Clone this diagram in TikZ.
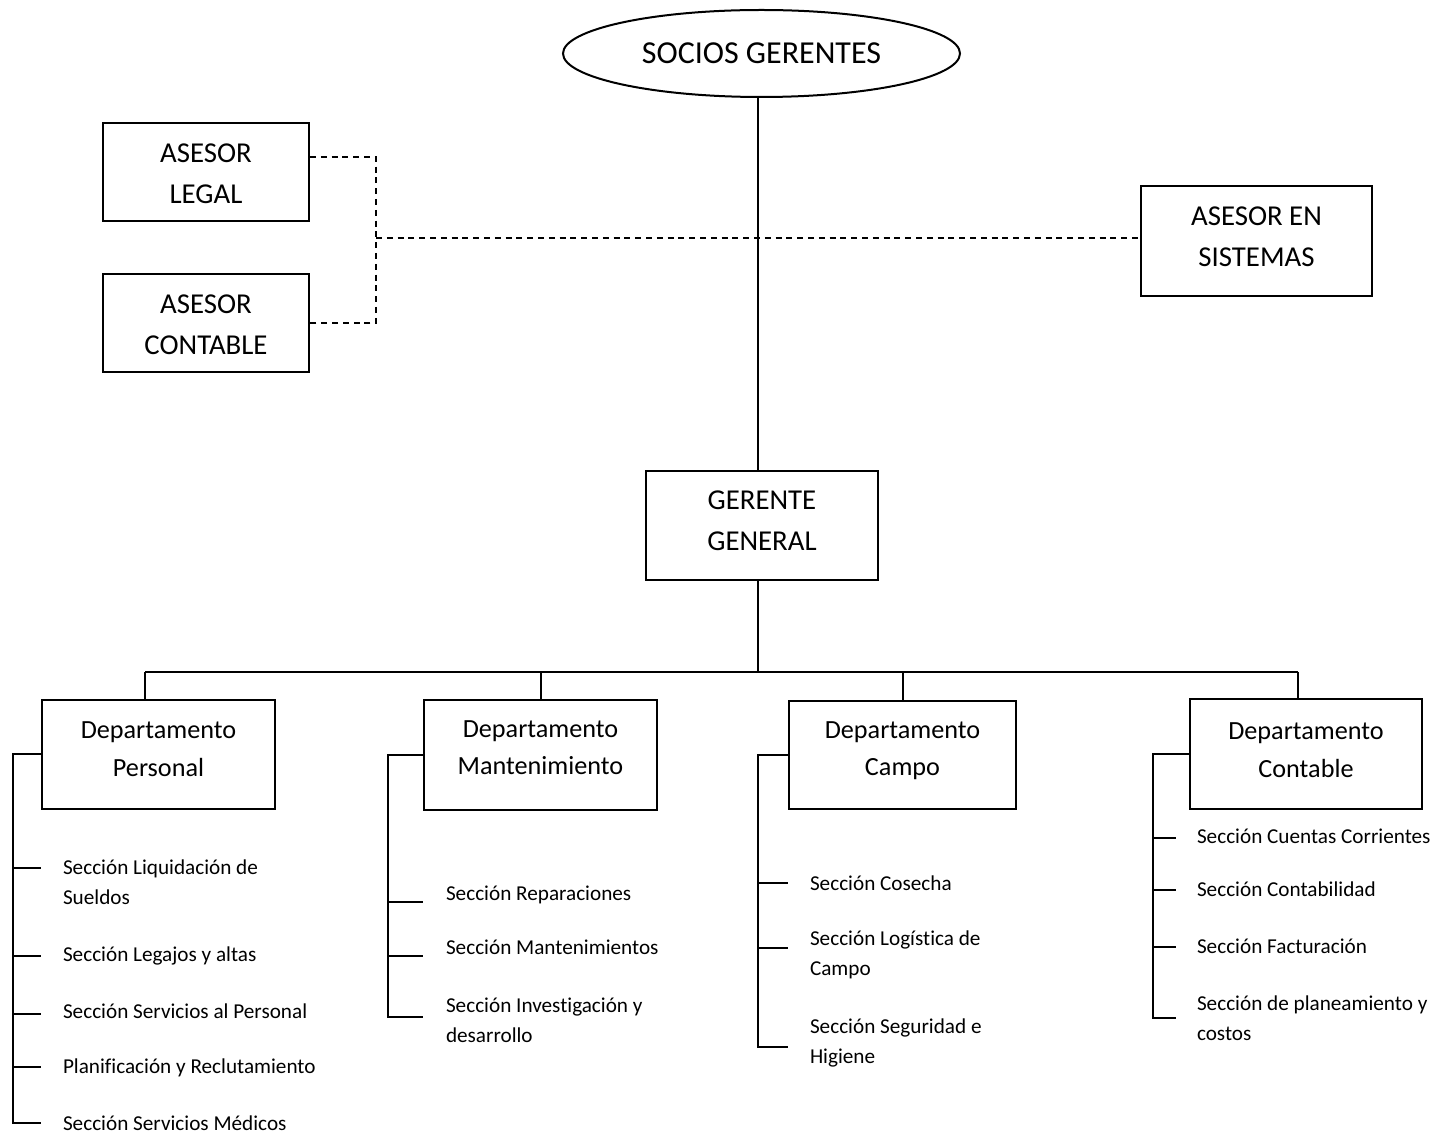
\documentclass[tikz,border=0pt]{standalone}
\usepackage{fontspec}
\setmainfont[Ligatures=NoCommon]{Carlito}
\usetikzlibrary{shapes.geometric}

\begin{document}
\begin{tikzpicture}[x=0.5pt,y=-0.5pt,line width=1pt,
  boxwh/.style 2 args={minimum width=#1*0.5pt, minimum height=#2*0.5pt},
  orgbox/.style={draw, rectangle, inner sep=0pt},
  topoval/.style={draw, ellipse, inner sep=0pt, font=\fontsize{16}{19}\selectfont},
  bigtxt/.style={font=\fontsize{14.4}{20.3}\selectfont, align=center, inner sep=0pt},
  depttxt/.style={font=\fontsize{13.1}{18.7}\selectfont, align=center, inner sep=0pt},
  sectxt/.style={font=\fontsize{10.6}{15}\selectfont, align=left, inner sep=0pt, anchor=base west},
  staff/.style={line width=0.8pt, dash pattern=on 3pt off 2.4pt}]

\fill[white] (0,0) rectangle (1436,1133);
\useasboundingbox (0,0) rectangle (1436,1133);

% top of the hierarchy
\node[topoval, boxwh={397}{87}] (ss) at (761.5,53.5) {SOCIOS GERENTES};

% staff advisers
\node[orgbox, boxwh={206}{98}] (al) at (206,172) {};
\node[bigtxt] (alt) at (206,174) {ASESOR\\LEGAL};
\node[orgbox, boxwh={206}{98}] (ac) at (206,323) {};
\node[bigtxt] (act) at (206,324.5) {ASESOR\\CONTABLE};
\node[orgbox, boxwh={231}{110}] (as) at (1256.5,241) {};
\node[bigtxt] (ast) at (1256.5,237) {ASESOR EN\\SISTEMAS};

% general manager
\node[orgbox, boxwh={232}{109}] (gg) at (762,525.5) {};
\node[bigtxt] (ggt) at (762,520.5) {GERENTE\\GENERAL};

% departments
\node[orgbox, boxwh={233}{109}] (dp) at (158.5,754.5) {};
\node[depttxt] (dpt) at (158.5,749) {Departamento\\Personal};
\node[orgbox, boxwh={233}{110}] (dm) at (540.5,755) {};
\node[depttxt] (dmt) at (540.5,747.5) {Departamento\\Mantenimiento};
\node[orgbox, boxwh={227}{108}] (dc) at (902.5,755) {};
\node[depttxt] (dct) at (902.5,751) {Departamento\\Campo};
\node[orgbox, boxwh={232}{110}] (dk) at (1306,754) {};
\node[depttxt] (dkt) at (1306,750) {Departamento\\Contable};

% main line of authority
\coordinate (spine) at (758,0);
\coordinate (bus) at (758,672);
\coordinate (bL) at (145,672);
\coordinate (bR) at (1298,672);
\draw (spine |- ss.south) -- (spine |- gg.north);
\draw (spine |- gg.south) -- (bus);
\draw (bL) -- (bR);
\draw (bL) -- (bL |- dp.north);
\draw (bus -| dm.north) -- (dm.north);
\draw (bus -| dc.north) -- (dc.north);
\draw (bR) -- (bR |- dk.north);

% advisory (staff) links
\coordinate (sj) at (376,238);
\draw[staff] ([yshift=7.5pt]al.east) -| (sj |- ac.east) -- (ac.east);
\draw[staff] (sj) -- (sj -| as.west);

% section brackets
\coordinate (pb) at (13,1123);
\draw (dp.west) -| (pb) -- (pb -| dp.west);
\foreach \n/\y in {p1/868,p2/956,p3/1014,p4/1067}{
  \coordinate (\n) at (13,\y);
  \draw (\n) -- (\n -| dp.west);
}
\coordinate (mb) at (388,1017);
\draw (dm.west) -| (mb) -- (mb -| dm.west);
\foreach \n/\y in {m1/902,m2/956}{
  \coordinate (\n) at (388,\y);
  \draw (\n) -- (\n -| dm.west);
}
\coordinate (cb) at (758,1047);
\draw (dc.west) -| (cb) -- (cb -| dc.west);
\foreach \n/\y in {c1/883,c2/948}{
  \coordinate (\n) at (758,\y);
  \draw (\n) -- (\n -| dc.west);
}
\coordinate (kb) at (1153,1018);
\coordinate (kend) at (1176,0);
\draw (dk.west) -| (kb) -- (kb -| kend);
\foreach \n/\y in {k1/838,k2/890,k3/947}{
  \coordinate (\n) at (1153,\y);
  \draw (\n) -- (\n -| kend);
}

% section names (base = baseline of the last line)
\node[sectxt] (sp1) at (62,904) {Sección Liquidación de\\Sueldos};
\node[sectxt] (sp2) at (62,961) {Sección Legajos y altas};
\node[sectxt] (sp3) at (62,1018) {Sección Servicios al Personal};
\node[sectxt] (sp4) at (62,1073) {Planificación y Reclutamiento};
\node[sectxt] (sp5) at (62,1130) {Sección Servicios Médicos};

\node[sectxt] (sm1) at (445,900) {Sección Reparaciones};
\node[sectxt] (sm2) at (445,954) {Sección Mantenimientos};
\node[sectxt] (sm3) at (445,1042) {Sección Investigación y\\desarrollo};

\node[sectxt] (sc1) at (809,890) {Sección Cosecha};
\node[sectxt] (sc2) at (809,975) {Sección Logística de\\Campo};
\node[sectxt] (sc3) at (809,1063) {Sección Seguridad e\\Higiene};

\node[sectxt] (sk1) at (1196,843) {Sección Cuentas Corrientes};
\node[sectxt] (sk2) at (1196,896) {Sección Contabilidad};
\node[sectxt] (sk3) at (1196,953) {Sección Facturación};
\node[sectxt] (sk4) at (1196,1040) {Sección de planeamiento y\\costos};
\end{tikzpicture}
\end{document}
